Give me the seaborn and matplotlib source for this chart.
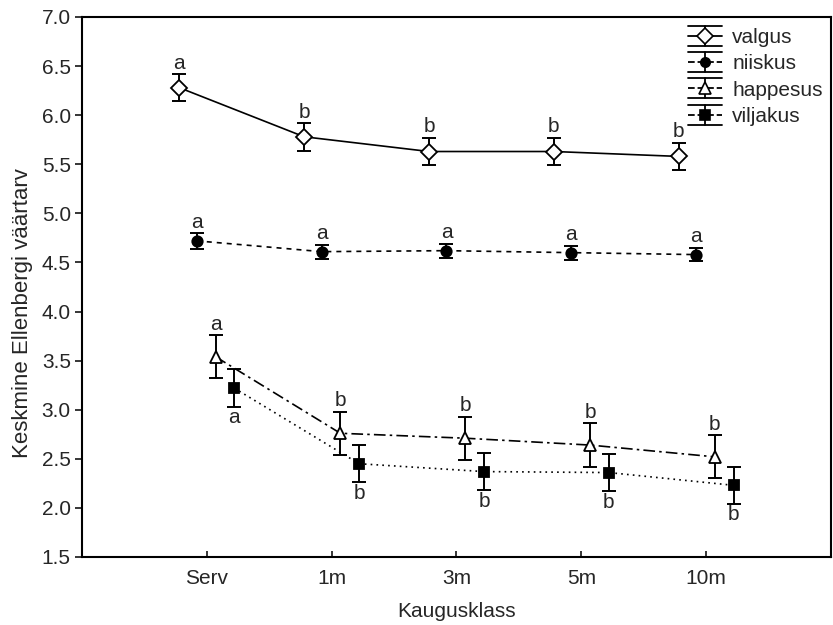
import numpy as np
import pandas as pd
import matplotlib
matplotlib.use("Agg")
import matplotlib.pyplot as plt
import seaborn as sns
from matplotlib.lines import Line2D
from matplotlib.legend_handler import HandlerBase

# data
klassid = ['Serv', '1m', '3m', '5m', '10m']
seeriad = ['valgus', 'niiskus', 'happesus', 'viljakus']

valgus = [6.28, 5.78, 5.63, 5.63, 5.58]
valgus_err = [0.14, 0.14, 0.14, 0.14, 0.14]
niiskus = [4.72, 4.61, 4.62, 4.60, 4.58]
niiskus_err = [0.08, 0.07, 0.07, 0.07, 0.07]
happesus = [3.54, 2.76, 2.71, 2.64, 2.52]
happesus_err = [0.22, 0.22, 0.22, 0.22, 0.22]
viljakus = [3.22, 2.45, 2.37, 2.36, 2.23]
viljakus_err = [0.19, 0.19, 0.19, 0.19, 0.19]

valgus_tahed = ['a', 'b', 'b', 'b', 'b']
niiskus_tahed = ['a', 'a', 'a', 'a', 'a']
happesus_tahed = ['a', 'b', 'b', 'b', 'b']
viljakus_tahed = ['a', 'b', 'b', 'b', 'b']

vaartused = {'valgus': valgus, 'niiskus': niiskus, 'happesus': happesus, 'viljakus': viljakus}
vead = {'valgus': valgus_err, 'niiskus': niiskus_err, 'happesus': happesus_err, 'viljakus': viljakus_err}
tahed = {'valgus': valgus_tahed, 'niiskus': niiskus_tahed, 'happesus': happesus_tahed, 'viljakus': viljakus_tahed}

# style per series
nihe = {'valgus': -0.22, 'niiskus': -0.08, 'happesus': 0.07, 'viljakus': 0.22}
markerid = {'valgus': 'D', 'niiskus': 'o', 'happesus': '^', 'viljakus': 's'}
taide = {'valgus': 'white', 'niiskus': 'black', 'happesus': 'white', 'viljakus': 'black'}
suurus = {'valgus': 8.5, 'niiskus': 7.5, 'happesus': 9, 'viljakus': 7.5}
joon = {'valgus': '-', 'niiskus': (0, (3, 3)), 'happesus': (0, (7, 2.5, 1.5, 2.5)), 'viljakus': (0, (1, 2.5))}
all_pool = {'valgus': False, 'niiskus': False, 'happesus': False, 'viljakus': True}

FS = 15


class ErrHandler(HandlerBase):
    # statistica-like glyph: wide caps above and below the series line
    def create_artists(self, legend, orig, xdescent, ydescent, width, height, fontsize, trans):
        x0, x1 = -xdescent, -xdescent + width
        cy = height / 2 - ydescent
        d = 0.48 * fontsize
        xm = (x0 + x1) / 2
        arts = [
            Line2D([x0, x1], [cy + d, cy + d], color='black', lw=1.3),
            Line2D([x0, x1], [cy - d, cy - d], color='black', lw=1.3),
            Line2D([xm, xm], [cy - d, cy + d], color='black', lw=1.3),
            Line2D([x0, x1], [cy, cy], color='black', lw=1.3, linestyle=orig.get_linestyle()),
            Line2D([xm], [cy], marker=orig.get_marker(), markersize=orig.get_markersize() * 0.9,
                   markerfacecolor=orig.get_markerfacecolor(), markeredgecolor='black',
                   markeredgewidth=1.2, linestyle='none'),
        ]
        for a in arts:
            a.set_transform(trans)
        return arts


sns.set_theme(style='ticks')
plt.rcParams['font.family'] = ['Liberation Sans', 'DejaVu Sans']

fig = plt.figure(figsize=(8.33, 6.25), dpi=100)
ax = fig.add_axes([0.0984, 0.1088, 0.8992, 0.864])

x = np.arange(len(klassid))
handles = []
for s in seeriad:
    xs = x + nihe[s]
    df = pd.DataFrame({'x': xs, 'y': vaartused[s]})
    sns.lineplot(data=df, x='x', y='y', ax=ax, color='black', linewidth=1.2,
                 linestyle=joon[s], marker=markerid[s], markersize=suurus[s],
                 markerfacecolor=taide[s], markeredgecolor='black', markeredgewidth=1.3,
                 legend=False, zorder=3)
    handles.append(ax.get_lines()[-1])
    ax.errorbar(xs, vaartused[s], yerr=vead[s], fmt='none', ecolor='black',
                elinewidth=1.4, capsize=5, capthick=1.4, zorder=2)
    for xi, yi, ei, t in zip(xs, vaartused[s], vead[s], tahed[s]):
        if all_pool[s]:
            ax.annotate(t, (xi, yi - ei), xytext=(0, -1), textcoords='offset points',
                        ha='center', va='top', fontsize=FS)
        else:
            ax.annotate(t, (xi, yi + ei), xytext=(0, 1), textcoords='offset points',
                        ha='center', va='bottom', fontsize=FS)

ax.set_xlim(-1, 5)
ax.set_ylim(1.5, 7.0)
ax.set_xticks(x)
ax.set_xticklabels(klassid)
ax.set_yticks(np.arange(1.5, 7.01, 0.5))
ax.set_yticklabels([f'{v:.1f}' for v in np.arange(1.5, 7.01, 0.5)])
ax.tick_params(axis='x', direction='in', length=4, width=1.3, labelsize=FS, pad=9)
ax.tick_params(axis='y', direction='out', length=5, width=1.3, labelsize=FS, pad=3)
for sp in ax.spines.values():
    sp.set_linewidth(1.5)
    sp.set_color('black')
ax.set_xlabel('Kaugusklass', fontsize=FS, labelpad=10)
ax.set_ylabel('Keskmine Ellenbergi väärtarv', fontsize=16)
ax.yaxis.set_label_coords(-0.066, 0.452)

ax.legend(handles, seeriad, handler_map={Line2D: ErrHandler()},
          loc='upper right', bbox_to_anchor=(1.0, 0.995), frameon=False, fontsize=FS,
          labelspacing=0.35, handlelength=1.6, handletextpad=0.5, borderaxespad=0.0)

fig.savefig('out.png', dpi=100)
